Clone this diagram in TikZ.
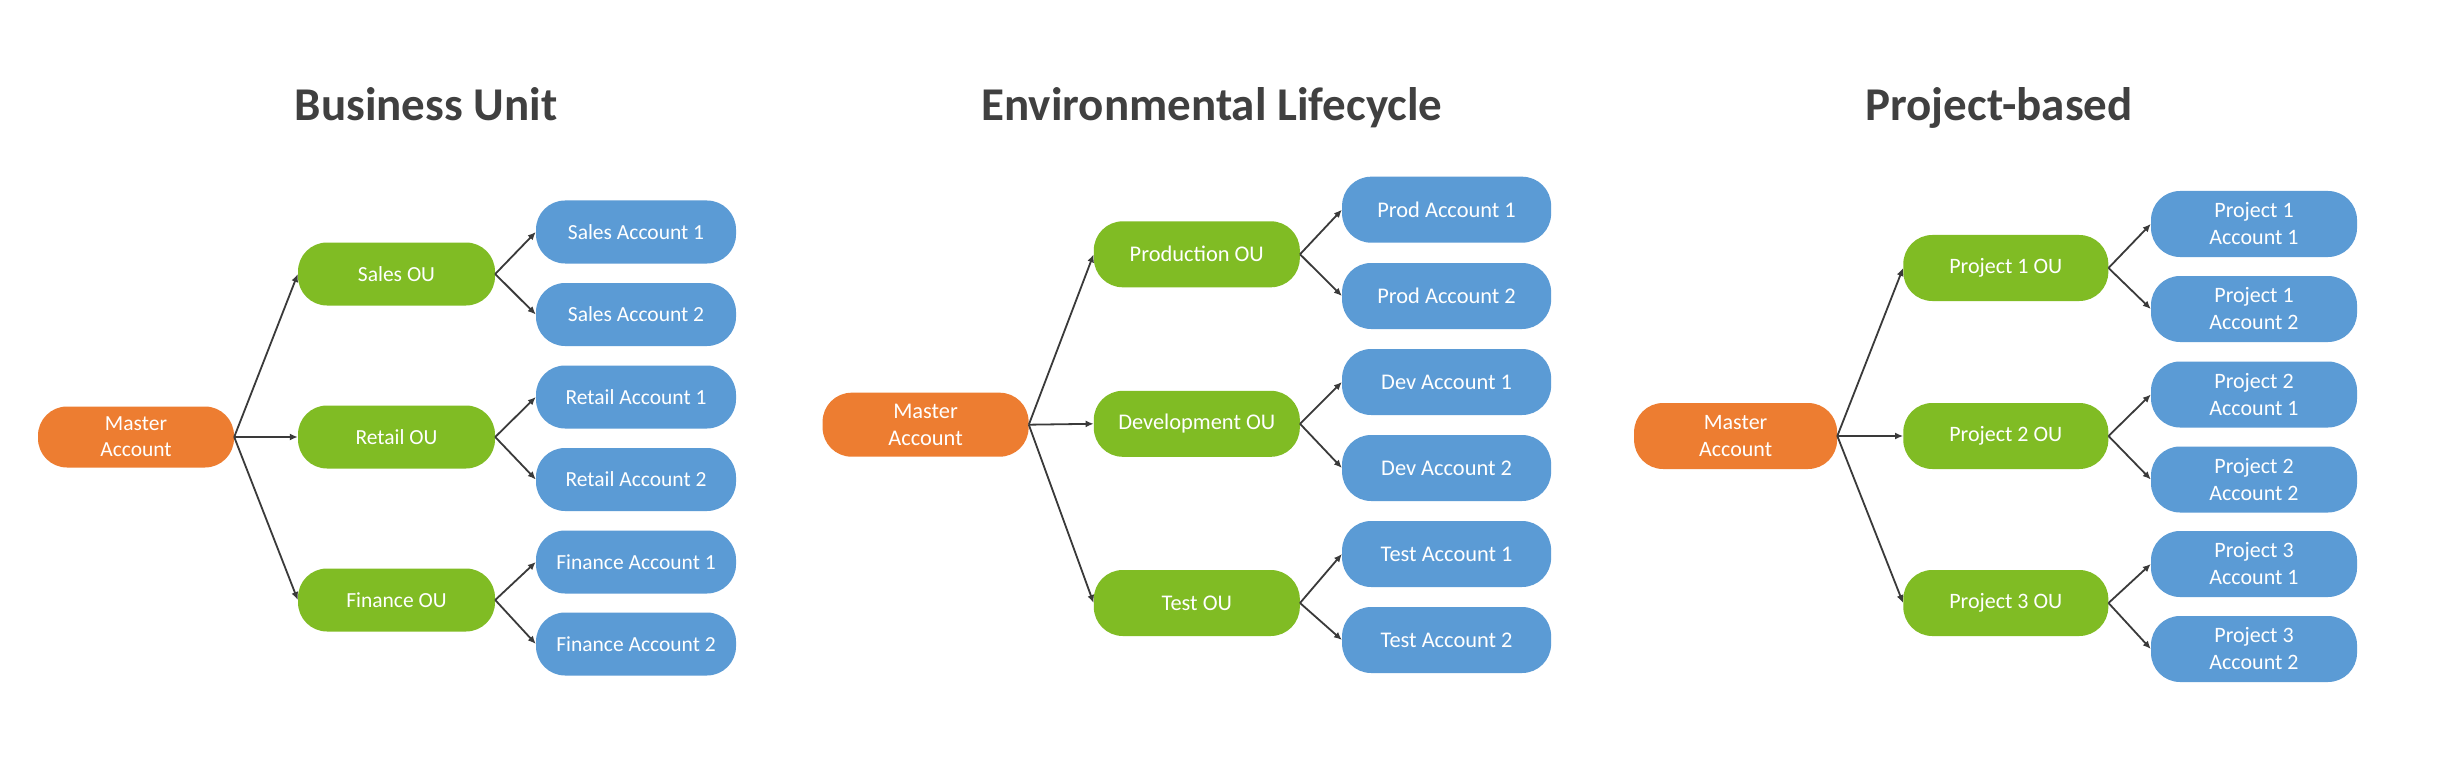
\documentclass[tikz,border=0pt]{standalone}
\usepackage{fontspec}
\setmainfont{Carlito}
\usetikzlibrary{arrows.meta}
\definecolor{borange}{HTML}{ED7D31}
\definecolor{bgreen}{HTML}{80BC24}
\definecolor{bblue}{HTML}{5B9BD5}
\definecolor{ttl}{HTML}{404040}
\definecolor{lnk}{HTML}{3A3A3A}
\begin{document}
\begin{tikzpicture}[x=1pt,y=-1pt,
  box/.style={rectangle, rounded corners=29pt, inner sep=0pt, text=white, align=center},
  sz/.style 2 args={minimum width=#1pt, minimum height=#2pt},
  master/.style={box, fill=borange},
  oubox/.style={box, fill=bgreen},
  acct/.style={box, fill=bblue},
  fa/.style={font=\fontsize{21.5}{26}\selectfont},
  fb/.style={font=\fontsize{22.4}{27}\selectfont},
  fc/.style={font=\fontsize{22}{27}\selectfont},
  title/.style={anchor=base, text=ttl, font=\fontsize{47}{56}\selectfont\bfseries},
  conn/.style={draw=lnk, line width=1.8pt, -{Latex[length=8pt,width=7pt]}}
]
\fill[white] (0,0) rectangle (2444,778);
\useasboundingbox (0,0) rectangle (2444,778);

% ---------------- Business Unit ----------------
\node[title] (t1) at (426,121) {Business Unit};
\node[master, fa, sz={196}{61}] (m1) at (136,437) {Master\\Account};
\node[oubox, fa, sz={197}{63}] (o11) at (396.5,274) {Sales OU};
\node[oubox, fa, sz={197}{63}] (o12) at (396.5,437) {Retail OU};
\node[oubox, fa, sz={197}{63}] (o13) at (396.5,600) {Finance OU};
\node[acct, fa, sz={200}{63}] (a11) at (636,232) {Sales Account 1};
\node[acct, fa, sz={200}{63}] (a12) at (636,314.5) {Sales Account 2};
\node[acct, fa, sz={200}{63}] (a13) at (636,397) {Retail Account 1};
\node[acct, fa, sz={200}{63}] (a14) at (636,479.5) {Retail Account 2};
\node[acct, fa, sz={200}{63}] (a15) at (636,562) {Finance Account 1};
\node[acct, fa, sz={200}{63}] (a16) at (636,644) {Finance Account 2};
\draw[conn] (m1.east) -- (o11.west);
\draw[conn] (m1.east) -- (o12.west);
\draw[conn] (m1.east) -- (o13.west);
\draw[conn] (o11.east) -- (a11.west);
\draw[conn] (o11.east) -- (a12.west);
\draw[conn] (o12.east) -- (a13.west);
\draw[conn] (o12.east) -- (a14.west);
\draw[conn] (o13.east) -- (a15.west);
\draw[conn] (o13.east) -- (a16.west);

% ---------------- Environmental Lifecycle ----------------
\node[title] (t2) at (1212,121) {Environmental Lifecycle};
\node[master, fb, sz={206}{64}] (m2) at (925.6,424.7) {Master\\Account};
\node[oubox, fb, sz={206}{66}] (o21) at (1196.8,254.3) {Production OU};
\node[oubox, fb, sz={206}{66}] (o22) at (1196.8,423.8) {Development OU};
\node[oubox, fb, sz={206}{66}] (o23) at (1196.8,603) {Test OU};
\node[acct, fb, sz={209}{66}] (a21) at (1446.6,209.7) {Prod Account 1};
\node[acct, fb, sz={209}{66}] (a22) at (1446.6,296) {Prod Account 2};
\node[acct, fb, sz={209}{66}] (a23) at (1446.6,382) {Dev Account 1};
\node[acct, fb, sz={209}{66}] (a24) at (1446.6,468) {Dev Account 2};
\node[acct, fb, sz={209}{66}] (a25) at (1446.6,554) {Test Account 1};
\node[acct, fb, sz={209}{66}] (a26) at (1446.6,640) {Test Account 2};
\draw[conn] (m2.east) -- (o21.west);
\draw[conn] (m2.east) -- (o22.west);
\draw[conn] (m2.east) -- (o23.west);
\draw[conn] (o21.east) -- (a21.west);
\draw[conn] (o21.east) -- (a22.west);
\draw[conn] (o22.east) -- (a23.west);
\draw[conn] (o22.east) -- (a24.west);
\draw[conn] (o23.east) -- (a25.west);
\draw[conn] (o23.east) -- (a26.west);

% ---------------- Project-based ----------------
\node[title] (t3) at (1999,121) {Project-based};
\node[master, fc, sz={203}{66}] (m3) at (1735.6,436) {Master\\Account};
\node[oubox, fc, sz={205}{66}] (o31) at (2005.8,268) {Project 1 OU};
\node[oubox, fc, sz={205}{66}] (o32) at (2005.8,436) {Project 2 OU};
\node[oubox, fc, sz={205}{66}] (o33) at (2005.8,603) {Project 3 OU};
\node[acct, fc, sz={206}{66}] (a31) at (2254,224) {Project 1\\Account 1};
\node[acct, fc, sz={206}{66}] (a32) at (2254,309) {Project 1\\Account 2};
\node[acct, fc, sz={206}{66}] (a33) at (2254,394.5) {Project 2\\Account 1};
\node[acct, fc, sz={206}{66}] (a34) at (2254,479.5) {Project 2\\Account 2};
\node[acct, fc, sz={206}{66}] (a35) at (2254,564) {Project 3\\Account 1};
\node[acct, fc, sz={206}{66}] (a36) at (2254,649) {Project 3\\Account 2};
\draw[conn] (m3.east) -- (o31.west);
\draw[conn] (m3.east) -- (o32.west);
\draw[conn] (m3.east) -- (o33.west);
\draw[conn] (o31.east) -- (a31.west);
\draw[conn] (o31.east) -- (a32.west);
\draw[conn] (o32.east) -- (a33.west);
\draw[conn] (o32.east) -- (a34.west);
\draw[conn] (o33.east) -- (a35.west);
\draw[conn] (o33.east) -- (a36.west);
\end{tikzpicture}
\end{document}
